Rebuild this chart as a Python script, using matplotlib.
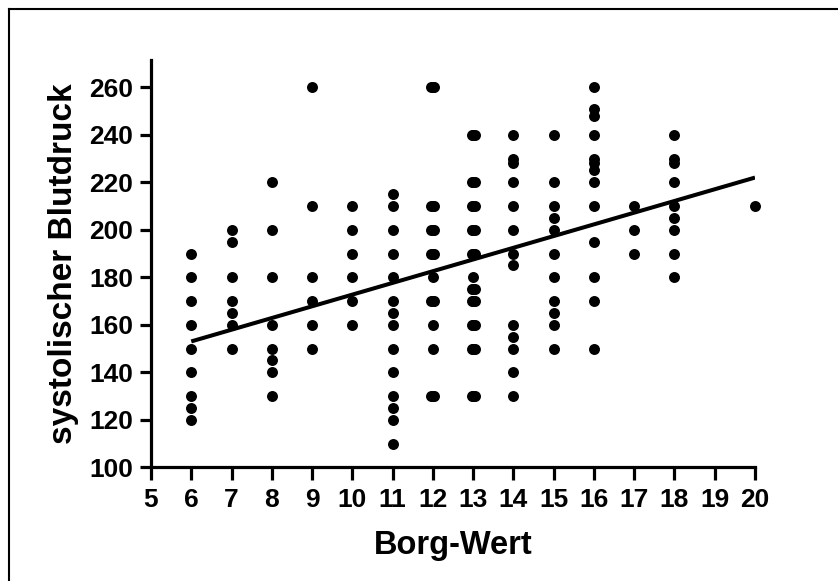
import numpy as np
import matplotlib
matplotlib.use('Agg')
import matplotlib.pyplot as plt
from matplotlib.lines import Line2D

borg_levels = [6, 7, 8, 9, 10, 11, 12, 13, 14, 15, 16, 17, 18, 20]
sbp_values = [
    [190, 180, 170, 160, 150, 140, 130, 125, 120],
    [200, 195, 180, 170, 165, 160, 150],
    [220, 200, 180, 160, 150, 145, 140, 130],
    [260, 210, 180, 170, 160, 150],
    [210, 200, 190, 180, 170, 160],
    [215, 210, 200, 190, 180, 170, 165, 160, 150, 140, 130, 125, 120, 110],
    [260, 210, 200, 190, 180, 170, 160, 150, 130],
    [240, 220, 210, 200, 190, 180, 175, 170, 160, 150, 130],
    [240, 230, 228, 220, 210, 200, 190, 185, 160, 155, 150, 140, 130],
    [240, 220, 210, 205, 200, 190, 180, 170, 165, 160, 150],
    [260, 251, 248, 240, 230, 228, 225, 220, 210, 195, 180, 170, 150],
    [210, 200, 190],
    [240, 230, 228, 220, 210, 205, 200, 190, 180],
    [210],
]

# points that appear twice (drawn side by side, like Prism does)
dup_borg = [12, 12, 12, 12, 12, 12, 13, 13, 13, 13, 13, 13, 13, 13, 13, 13]
dup_sbp = [260, 210, 200, 190, 170, 130, 240, 220, 210, 200, 190, 175, 170, 160, 150, 130]

# linear regression line as drawn
fit_x = [6, 20]
fit_y = [153, 222]

x_ticks = list(range(5, 21))
y_ticks = list(range(100, 261, 20))

plt.rcParams['font.family'] = ['Liberation Sans', 'DejaVu Sans']
plt.rcParams['font.weight'] = 'bold'

W, H = 838, 581
fig = plt.figure(figsize=(W / 100, H / 100), dpi=100)
ax = fig.add_axes([151 / W, 113.7 / H, 604 / W, 407.3 / H])

xs, ys = [], []
for b, vals in zip(borg_levels, sbp_values):
    xs += [b] * len(vals)
    ys += vals
ax.plot(xs, ys, 'o', color='black', ms=7.9, mew=0, clip_on=False, zorder=3)

# duplicates: nudge them a little sideways
dup_x = np.array(dup_borg, dtype=float)
ax.plot(dup_x - 0.04, dup_sbp, 'o', color='black', ms=7.9, mew=0, clip_on=False, zorder=3)
ax.plot(dup_x + 0.04, dup_sbp, 'o', color='black', ms=7.9, mew=0, clip_on=False, zorder=3)

ax.plot(fit_x, fit_y, color='black', lw=2.9, solid_capstyle='butt', zorder=4)

ax.set_xlim(5, 20)
ax.set_ylim(100, 271.5)
ax.set_xticks(x_ticks)
ax.set_yticks(y_ticks)

for side in ['top', 'right']:
    ax.spines[side].set_visible(False)
for side in ['left', 'bottom']:
    ax.spines[side].set_linewidth(2.3)
    ax.spines[side].set_capstyle('projecting')

ax.tick_params(axis='both', width=2.3, labelsize=19, direction='out')
ax.tick_params(axis='y', length=8, pad=5)
ax.tick_params(axis='x', length=9.5, pad=5.5)
for lab in ax.get_xticklabels() + ax.get_yticklabels():
    lab.set_fontweight('bold')

ax.set_xlabel('Borg-Wert', fontsize=23.5, fontweight='bold')
ax.set_ylabel('systolischer Blutdruck', fontsize=24, fontweight='bold')
ax.xaxis.set_label_coords(0.5, -0.154)
ax.yaxis.set_label_coords(-0.12, 0.5)

# border along the top and left edge of the picture
fig.add_artist(Line2D([9 / W, 1.0], [1 - 9 / H, 1 - 9 / H], color='black', lw=1.5, transform=fig.transFigure))
fig.add_artist(Line2D([9 / W, 9 / W], [0.0, 1 - 9 / H], color='black', lw=1.5, transform=fig.transFigure))

plt.savefig('out.png', dpi=100)
plt.close(fig)
